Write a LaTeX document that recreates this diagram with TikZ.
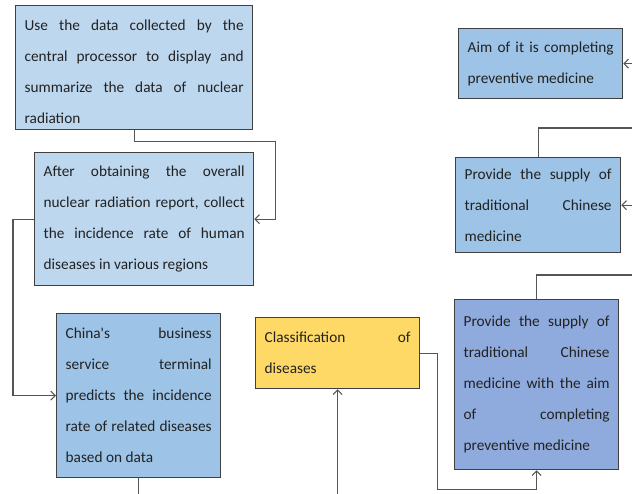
\documentclass[tikz,border=0pt]{standalone}
\usepackage{fontspec}
\setmainfont{Carlito}[Ligatures=TeXOff]
\usetikzlibrary{arrows.meta}
\definecolor{paleblue}{HTML}{BDD7EE}
\definecolor{midblue}{HTML}{9DC3E6}
\definecolor{deepblue}{HTML}{8FAADC}
\definecolor{gold}{HTML}{FFD966}
\definecolor{edge}{HTML}{404040}
\definecolor{wire}{HTML}{555555}
\definecolor{ink}{HTML}{222222}
\newcommand{\boxfont}{\fontsize{15.3}{31}\selectfont}
\tikzset{
  x=1pt, y=-1pt,
  card/.style={draw=edge, line width=1.3pt, anchor=north west, inner xsep=9pt,
    inner ysep=0pt, align=justify, font=\boxfont, text=ink},
  link/.style={draw=wire, line width=1.2pt},
  arr/.style={link, -{Straight Barb[length=4.5pt, width=9pt, line width=1pt]}},
}
\begin{document}
\begin{tikzpicture}
\useasboundingbox (0,0) rectangle (632,494);

% process boxes
\node[card, fill=paleblue, text width=219pt, minimum height=124pt] (b1) at (15,5)
  {\rule{0pt}{19.5pt}Use the data collected by the\linebreak central processor to display and\linebreak summarize the data of nuclear\linebreak radiation};
\node[card, fill=paleblue, text width=201pt, minimum height=133pt] (b2) at (34,152)
  {After obtaining the overall\linebreak nuclear radiation report, collect\linebreak the incidence rate of human\linebreak diseases in various regions};
\node[card, fill=midblue, text width=146pt, minimum height=164pt] (b3) at (56,313)
  {China's business\linebreak service terminal\linebreak predicts the incidence\linebreak rate of related diseases\linebreak based on data};
\node[card, fill=gold, text width=146pt, minimum height=71pt] (cls) at (255,317)
  {Classification of\linebreak diseases};
\node[card, fill=midblue, text width=146pt, minimum height=70pt] (aim) at (458,28)
  {Aim of it is completing\linebreak preventive medicine};
\node[card, fill=midblue, text width=147pt, minimum height=95pt] (p1) at (455,157)
  {Provide the supply of\linebreak traditional Chinese\linebreak medicine};
\node[card, fill=deepblue, text width=146pt, minimum height=170pt] (p2) at (454,299)
  {Provide the supply of\linebreak traditional Chinese\linebreak medicine with the aim\linebreak of completing\linebreak preventive medicine};

% loose ends at the page border
\coordinate (e3) at (b3.south |- 0,494);
\coordinate (ecls) at (cls.south |- 0,494);
\coordinate (ep2) at (632,275);
\coordinate (ep1) at (632,128);
\coordinate (ip1) at (632,0 |- p1.east);
\coordinate (iaim) at (632,0 |- aim.east);

% connectors
\draw[arr] (b1.south) -- ++(0,11) -| ([xshift=21pt]b2.east) -- (b2.east);
\draw[arr] (b2.west) -- ++(-21,0) |- (b3.west);
\draw[link] (b3.south) -- (e3);
\draw[arr] (ecls) -- (cls.south);
\draw[arr] (cls.east) -- ++(17,0) |- ([yshift=-19pt]p2.south) -- (p2.south);
\draw[link] (p2.north) |- (ep2);
\draw[link] (p1.north) |- (ep1);
\draw[arr] (ip1) -- (p1.east);
\draw[arr] (iaim) -- (aim.east);
\end{tikzpicture}
\end{document}
